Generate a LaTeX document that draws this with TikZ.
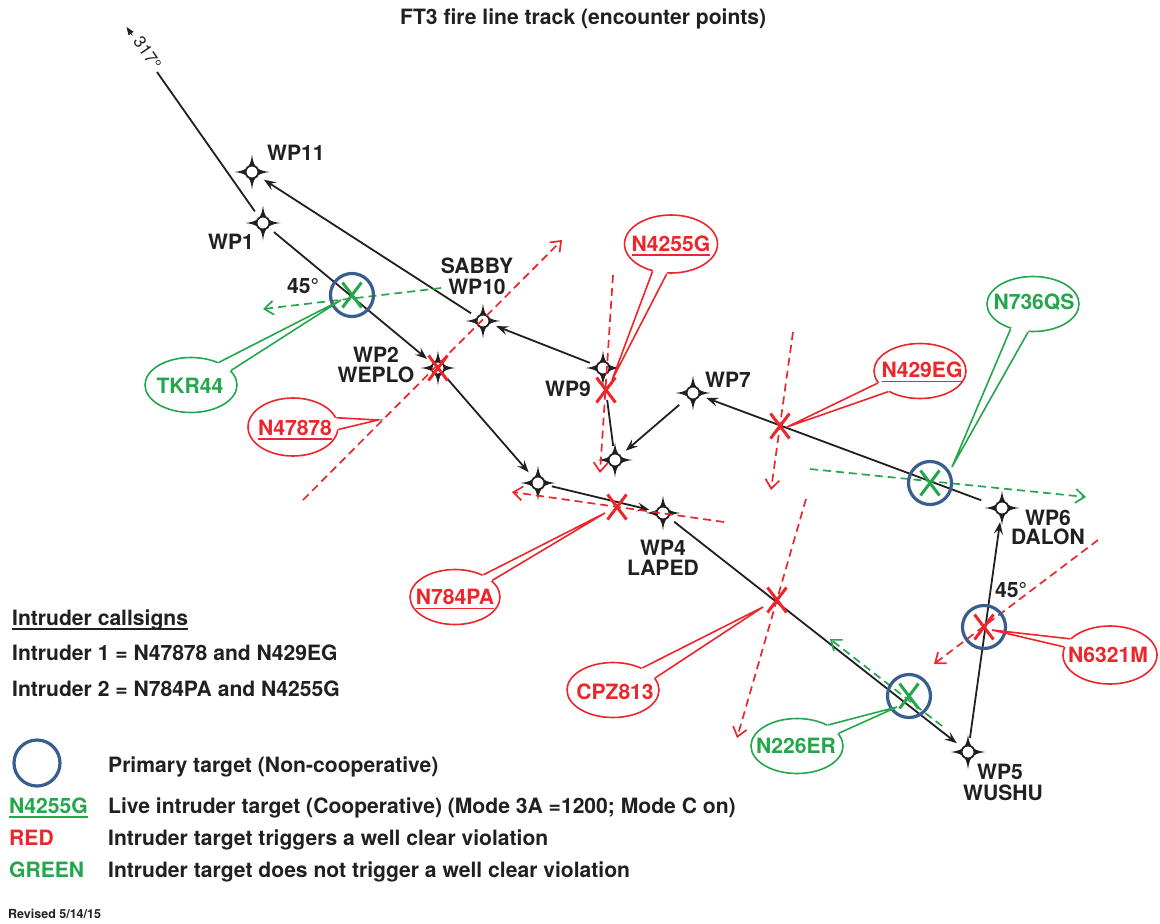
\documentclass[tikz,border=0pt]{standalone}
\usepackage{fontspec}
\setmainfont{TeX Gyre Heros}
\usetikzlibrary{arrows.meta,calc,shapes.geometric}
\definecolor{ink}{RGB}{35,31,32}
\definecolor{ired}{RGB}{236,38,43}
\definecolor{igreen}{RGB}{36,166,76}
\definecolor{iblue}{RGB}{55,94,141}
\newcommand{\myul}[1]{\setbox0\hbox{#1}\rlap{\raisebox{-4.5pt}[0pt][0pt]{\rule{\wd0}{1.6pt}}}\box0}
\newcommand{\bigfont}{\fontsize{21.1}{22}\selectfont\bfseries}
\newcommand{\ballooncut}[4]{%
  \fill[white] ($(#1.center)!0.86!(#1.#2)$) -- (#1.#2) -- ($(#1.#2)!0.15!(#4)$) -- ($(#1.#3)!0.15!(#4)$) -- (#1.#3) -- ($(#1.center)!0.86!(#1.#3)$) -- cycle;}
\tikzset{
  track/.style={draw=ink, line width=1.8pt, -{Stealth[length=12pt,width=9pt,inset=4.5pt]}},
  plainline/.style={draw=ink, line width=1.8pt},
  itrack/.style={line width=1.7pt, dash pattern=on 8pt off 5pt, -{Straight Barb[length=9pt,width=14pt]}},
  wp/.style={circle, minimum size=28pt, inner sep=0pt},
  tgt/.style={circle, draw=iblue, line width=3.2pt, minimum size=43pt, inner sep=0pt},
  balloon/.style={ellipse, draw=#1, fill=white, line width=1.6pt, minimum width=92pt, minimum height=55pt, inner sep=0pt},
  ptr/.style={draw=#1, line width=1.6pt, line join=miter},
  ctext/.style={font=\bigfont, inner sep=0pt},
  lbl/.style={font=\bigfont, text=ink, inner sep=0pt, anchor=base},
  leg/.style={font=\bigfont, inner sep=0pt, anchor=base west},
  wpstar/.pic={
    \fill[ink] (0,17.5) .. controls (1.2,8) and (3,5.6) .. (5.3,5.3) .. controls (5.6,3) and (8,1.2) .. (17.5,0)
      .. controls (8,-1.2) and (5.6,-3) .. (5.3,-5.3) .. controls (3,-5.6) and (1.2,-8) .. (0,-17.5)
      .. controls (-1.2,-8) and (-3,-5.6) .. (-5.3,-5.3) .. controls (-5.6,-3) and (-8,-1.2) .. (-17.5,0)
      .. controls (-8,1.2) and (-5.6,3) .. (-5.3,5.3) .. controls (-3,5.6) and (-1.2,8) .. (0,17.5) -- cycle;
    \filldraw[fill=white, draw=ink, line width=0.9pt] (0,0) circle[radius=6pt];
  },
  xm/.pic={\draw[line width=3pt] (-9.5,-12.5) -- (9.5,12.5) (9.5,-12.5) -- (-9.5,12.5);}
}
\begin{document}
\begin{tikzpicture}[x=1pt,y=-1pt]
\useasboundingbox[fill=white] (0,0) rectangle (1160,924);

% title
\node[leg, text=ink] (title) at (400,24) {FT3 fire line track (encounter points)};

% waypoints
\node[wp] (wp1) at (263,223) {};
\node[wp] (wp11) at (252,172) {};
\node[wp] (wp2) at (438,368) {};
\node[wp] (wp10) at (483,321) {};
\node[wp] (wp9) at (603,368) {};
\node[wp] (wp7) at (693,393) {};
\node[wp] (wp8) at (615,460) {};
\node[wp] (wp3) at (538,483) {};
\node[wp] (wp4) at (663,513) {};
\node[wp] (wp5) at (968,752) {};
\node[wp] (wp6) at (1002,508) {};
\foreach \w in {wp1,wp11,wp2,wp10,wp9,wp7,wp8,wp3,wp4,wp5,wp6} {\pic at (\w) {wpstar};}

% heading 317
\coordinate (c317) at (157,72);
\draw[plainline] (wp1) -- (c317);
\coordinate (h317a) at (132.5,35.5);
\coordinate (h317b) at (126.5,27);
\draw[ink, line width=0.6pt, -{Triangle[length=8pt,width=6pt]}] (h317a) -- (h317b);
\node[rotate=-55.75, font=\fontsize{17}{17}\selectfont, text=ink, inner sep=0pt] (t317) at (147.5,53) {317°};

% track
\draw[track] (wp1) -- (wp2);
\draw[track] (wp2) -- (wp3);
\draw[track] (wp3) -- (wp4);
\draw[track] (wp4) -- (wp5);
\draw[track] (wp5) -- (wp6);
\draw[track, shorten <=8pt] (wp6) -- (wp7);
\draw[track, shorten <=4pt] (wp7) -- (wp8);
\draw[plainline, shorten >=18pt] (wp8) -- (wp9);
\draw[track] (wp9) -- (wp10);
\draw[track] (wp10) -- (wp11);

% intruder tracks
\coordinate (a1s) at (303,500); \coordinate (a1e) at (562,240);
\coordinate (a2s) at (793,332); \coordinate (a2e) at (771,490);
\coordinate (b1s) at (724,522); \coordinate (b1e) at (512,492);
\coordinate (b2s) at (613,275); \coordinate (b2e) at (600,473);
\coordinate (g1s) at (441,288); \coordinate (g1e) at (263,309);
\coordinate (g2s) at (810,469); \coordinate (g2e) at (1086,497);
\coordinate (c1s) at (806,499); \coordinate (c1e) at (737,738);
\coordinate (m1s) at (1098,540); \coordinate (m1e) at (934,664);
\coordinate (g3s) at (942,726); \coordinate (g3e) at (830,639);
\draw[itrack, ired] (a1s) -- (a1e);
\draw[itrack, ired] (a2s) -- (a2e);
\draw[itrack, ired] (b1s) -- (b1e);
\draw[itrack, ired] (b2s) -- (b2e);
\draw[itrack, igreen] (g1s) -- (g1e);
\draw[itrack, igreen] (g2s) -- (g2e);
\draw[itrack, ired] (c1s) -- (c1e);
\draw[itrack, ired] (m1s) -- (m1e);
\draw[itrack, igreen] (g3s) -- (g3e);

% primary targets
\node[tgt] (t1) at (352,295) {};
\node[tgt] (t2) at (930,483) {};
\node[tgt] (t3) at (984,627) {};
\node[tgt] (t4) at (909,696) {};

% encounter marks
\coordinate (x2) at (438,368);
\coordinate (x9) at (606,390);
\coordinate (x429) at (780,426);
\coordinate (x784) at (617,507);
\coordinate (xcpz) at (777,600);
\pic[igreen] at (t1) {xm};
\pic[igreen] at (t2) {xm};
\pic[ired] at (t3) {xm};
\pic[igreen] at (t4) {xm};
\pic[ired] at (x2) {xm};
\pic[ired] at (x9) {xm};
\pic[ired] at (x429) {xm};
\pic[ired] at (x784) {xm};
\pic[ired] at (xcpz) {xm};

% balloons
\coordinate (tT) at (341,300);
\coordinate (tN47) at (378,420);
\coordinate (tN42) at (612,380);
\coordinate (tN429) at (787,427);
\coordinate (tN736) at (952,467);
\coordinate (tN784) at (605,513);
\coordinate (tCPZ) at (763,607);
\coordinate (tN63) at (992,630);
\coordinate (tN226) at (897,707);

\node[balloon=igreen] (bT) at (191,385) {};
\ballooncut{bT}{39}{20}{tT}
\draw[ptr=igreen] (bT.39) -- (tT) -- (bT.20);
\node[ctext, text=igreen] (bTt) at (190,385.5) {TKR44};

\node[balloon=ired, minimum width=90pt, minimum height=58pt] (bN47) at (293,427) {};
\ballooncut{bN47}{12}{-3}{tN47}
\draw[ptr=ired] (bN47.12) -- (tN47) -- (bN47.-3);
\node[ctext, text=ired] (bN47t) at (295,427.5) {\myul{N47878}};

\node[balloon=ired, minimum width=93pt, minimum height=58pt] (bN42) at (671,244) {};
\ballooncut{bN42}{-124}{-98}{tN42}
\draw[ptr=ired] (bN42.-124) -- (tN42) -- (bN42.-98);
\node[ctext, text=ired] (bN42t) at (671,243.5) {\myul{N4255G}};

\node[balloon=ired] (bN429) at (920,371) {};
\ballooncut{bN429}{-164}{-147}{tN429}
\draw[ptr=ired] (bN429.-164) -- (tN429) -- (bN429.-147);
\node[ctext, text=ired] (bN429t) at (922,370) {\myul{N429EG}};

\node[balloon=igreen] (bN736) at (1033,304) {};
\ballooncut{bN736}{-132}{-100}{tN736}
\draw[ptr=igreen] (bN736.-132) -- (tN736) -- (bN736.-100);
\node[ctext, text=igreen] (bN736t) at (1034,302.5) {N736QS};

\node[balloon=ired, minimum width=90pt] (bN784) at (455,597) {};
\ballooncut{bN784}{38}{24}{tN784}
\draw[ptr=ired] (bN784.38) -- (tN784) -- (bN784.24);
\node[ctext, text=ired] (bN784t) at (455,597) {\myul{N784PA}};

\node[balloon=ired] (bCPZ) at (613,690) {};
\ballooncut{bCPZ}{37}{16}{tCPZ}
\draw[ptr=ired] (bCPZ.37) -- (tCPZ) -- (bCPZ.16);
\node[ctext, text=ired] (bCPZt) at (615,691.5) {CPZ813};

\node[balloon=ired, minimum width=94pt, minimum height=58pt] (bN63) at (1110,655) {};
\ballooncut{bN63}{158}{170}{tN63}
\draw[ptr=ired] (bN63.158) -- (tN63) -- (bN63.170);
\node[ctext, text=ired] (bN63t) at (1108,654.5) {N6321M};

\node[balloon=igreen] (bN226) at (797,746) {};
\ballooncut{bN226}{34}{17}{tN226}
\draw[ptr=igreen] (bN226.34) -- (tN226) -- (bN226.17);
\node[ctext, text=igreen] (bN226t) at (796,745.5) {N226ER};

% waypoint labels
\node[lbl, anchor=base west] (l11) at (267,160) {WP11};
\node[lbl, anchor=base west] (l1) at (208,249) {WP1};
\node[lbl, anchor=base west] (a45a) at (287,293) {45°};
\node[lbl] (l2a) at (376,362) {WP2};
\node[lbl] (l2b) at (376,382) {WEPLO};
\node[lbl] (l10a) at (477,273) {SABBY};
\node[lbl] (l10b) at (477,294) {WP10};
\node[lbl, anchor=base west] (l9) at (545,396) {WP9};
\node[lbl, anchor=base west] (l7) at (705,387) {WP7};
\node[lbl] (l4a) at (663,555) {WP4};
\node[lbl] (l4b) at (663,575) {LAPED};
\node[lbl] (l5a) at (1000,779) {WP5};
\node[lbl] (l5b) at (1003,800) {WUSHU};
\node[lbl] (l6a) at (1048,525) {WP6};
\node[lbl] (l6b) at (1048,544) {DALON};
\node[lbl, anchor=base west] (a45b) at (995,597) {45°};

% legend
\node[leg, text=ink] (lg0) at (12,625) {\myul{Intruder callsigns}};
\node[leg, text=ink] (lg1) at (12,660) {Intruder 1 = N47878 and N429EG};
\node[leg, text=ink] (lg2) at (12,696) {Intruder 2 = N784PA and N4255G};
\node[tgt, minimum size=46pt] (lgc) at (37,763) {};
\node[leg, text=ink] (lg3) at (108,772) {Primary target (Non-cooperative)};
\node[leg, text=igreen] (lg4k) at (9,813) {\myul{N4255G}};
\node[leg, text=ink] (lg4) at (108,813) {Live intruder target (Cooperative) (Mode 3A =1200; Mode C on)};
\node[leg, text=ired] (lg5k) at (9,845) {RED};
\node[leg, text=ink] (lg5) at (108,845) {Intruder target triggers a well clear violation};
\node[leg, text=igreen] (lg6k) at (9,877) {GREEN};
\node[leg, text=ink] (lg6) at (108,877) {Intruder target does not trigger a well clear violation};
\node[leg, text=ink, font=\fontsize{12.5}{13}\selectfont\bfseries] (rev) at (8,918) {Revised 5/14/15};
\end{tikzpicture}
\end{document}
